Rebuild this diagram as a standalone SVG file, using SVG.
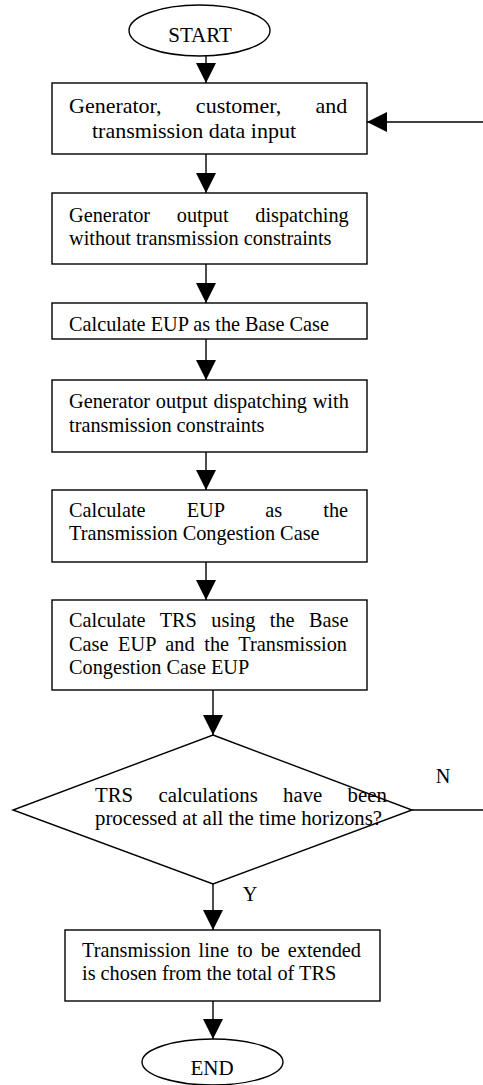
<svg xmlns="http://www.w3.org/2000/svg" width="483" height="1085" viewBox="0 0 483 1085">
<style>
.s{fill:#fff;stroke:#000;stroke-width:1.4}
.t{font-family:"Liberation Serif","Times New Roman",serif;font-size:20.3px;fill:#000}
.c{stroke:#000;stroke-width:1.4;fill:none}
</style>
<defs>
<marker id="ah" markerUnits="userSpaceOnUse" markerWidth="20" markerHeight="20" viewBox="0 0 18 18" refX="18" refY="9" orient="auto">
<path d="M0,0 L18,9 L0,18 Z" fill="#000"/>
</marker>
</defs>
<rect width="483" height="1085" fill="#fff"/>
<g id="connectors">
<line class="c" x1="206" y1="56" x2="206" y2="83" marker-end="url(#ah)"/>
<line class="c" x1="206" y1="154" x2="206" y2="193" marker-end="url(#ah)"/>
<line class="c" x1="206" y1="264" x2="206" y2="303" marker-end="url(#ah)"/>
<line class="c" x1="206" y1="339" x2="206" y2="380" marker-end="url(#ah)"/>
<line class="c" x1="206" y1="452" x2="206" y2="490" marker-end="url(#ah)"/>
<line class="c" x1="206" y1="562" x2="206" y2="600" marker-end="url(#ah)"/>
<line class="c" x1="213" y1="690" x2="213" y2="735" marker-end="url(#ah)"/>
<line class="c" x1="213" y1="884" x2="213" y2="930" marker-end="url(#ah)"/>
<line class="c" x1="213" y1="1001" x2="213" y2="1039" marker-end="url(#ah)"/>
<line class="c" x1="483" y1="122" x2="367" y2="122" marker-end="url(#ah)"/>
<line class="c" x1="412" y1="810" x2="483" y2="810"/>
<text class="t" x="443" y="783" text-anchor="middle">N</text>
<text class="t" x="250" y="901" text-anchor="middle">Y</text>
</g>
<g id="start">
<ellipse class="s" cx="199.5" cy="30.5" rx="70.5" ry="25.5"/>
<text class="t" x="200" y="42" text-anchor="middle" style="font-size:21px">START</text>
</g>
<g id="n1">
<rect class="s" x="52" y="83" width="315" height="71"/>
<text class="t" x="69" y="113" style="font-size:22px" word-spacing="28.8">Generator, customer, and</text>
<text class="t" x="92" y="138" style="font-size:22px">transmission data input</text>
</g>
<g id="n2">
<rect class="s" x="52" y="193" width="315" height="71"/>
<text class="t" x="69" y="222" word-spacing="21.6">Generator output dispatching</text>
<text class="t" x="69" y="245">without transmission constraints</text>
</g>
<g id="n3">
<rect class="s" x="52" y="303" width="315" height="36"/>
<text class="t" x="69" y="331">Calculate EUP as the Base Case</text>
</g>
<g id="n4">
<rect class="s" x="52" y="380" width="315" height="72"/>
<text class="t" x="69" y="408" word-spacing="0.7">Generator output dispatching with</text>
<text class="t" x="69" y="432">transmission constraints</text>
</g>
<g id="n5">
<rect class="s" x="52" y="490" width="315" height="72"/>
<text class="t" x="69" y="517" word-spacing="36">Calculate EUP as the</text>
<text class="t" x="69" y="540">Transmission Congestion Case</text>
</g>
<g id="n6">
<rect class="s" x="52" y="600" width="315" height="90"/>
<text class="t" x="69" y="627" word-spacing="9.4">Calculate TRS using the Base</text>
<text class="t" x="69" y="651" word-spacing="4.6">Case EUP and the Transmission</text>
<text class="t" x="69" y="674">Congestion Case EUP</text>
</g>
<g id="decision">
<polygon class="s" points="213,735 412,810 213,884 13,810"/>
<text class="t" x="95" y="802" style="font-size:20.8px" word-spacing="20.1">TRS calculations have been</text>
<text class="t" x="95" y="825" style="font-size:20.8px">processed at all the time horizons?</text>
</g>
<g id="n7">
<rect class="s" x="65" y="930" width="315" height="71"/>
<text class="t" x="82" y="957" word-spacing="2.9">Transmission line to be extended</text>
<text class="t" x="82" y="980">is chosen from the total of TRS</text>
</g>
<g id="end">
<ellipse class="s" cx="212.5" cy="1062" rx="70.5" ry="23"/>
<text class="t" x="212" y="1075" text-anchor="middle" style="font-size:21px">END</text>
</g>
</svg>
